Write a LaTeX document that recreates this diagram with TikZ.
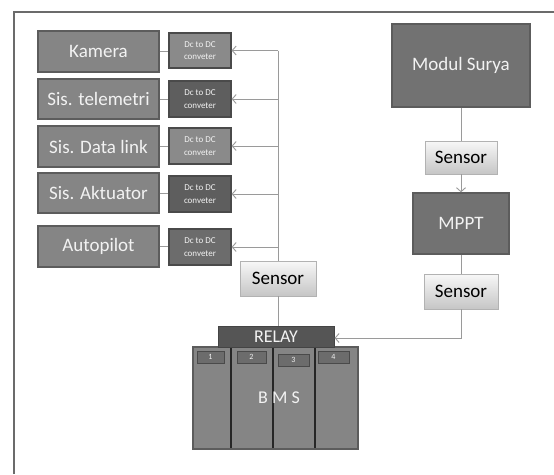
\documentclass[tikz,border=0pt]{standalone}
\usepackage{fontspec}
\setmainfont{Carlito}
\usetikzlibrary{arrows.meta,shadows}
\definecolor{mainfill}{HTML}{858585}
\definecolor{mainedge}{HTML}{5C5C5C}
\definecolor{dclight}{HTML}{8A8A8A}
\definecolor{dcdark}{HTML}{5E5E5E}
\definecolor{dcmid}{HTML}{6C6C6C}
\definecolor{darkfill}{HTML}{727272}
\definecolor{relayfill}{HTML}{555555}
\definecolor{wireclr}{HTML}{9A9A9A}
\definecolor{frameclr}{HTML}{6B6B6B}
\definecolor{txtw}{HTML}{F2F2F2}
\tikzset{
  mainbox/.style={draw=mainedge, line width=1.4pt, fill=mainfill, text=txtw,
    minimum width=121pt, inner sep=0pt, font=\fontsize{19}{21}\selectfont},
  dcbox/.style={draw=mainedge!80!black, line width=1.2pt, text=txtw,
    minimum width=62pt, minimum height=36pt, inner sep=0pt, align=center,
    font=\fontsize{9}{12.5}\selectfont},
  sensorbox/.style={draw=gray!60, line width=0.8pt, top color=white!97!black, bottom color=gray!45,
    drop shadow={shadow xshift=1.2pt, shadow yshift=-1.2pt, opacity=0.35},
    text=black, inner sep=0pt, font=\fontsize{19}{21}\selectfont},
  wire/.style={draw=wireclr, line width=1pt},
  arr/.style={wire, -{Straight Barb[length=4pt,width=9pt,line width=0.9pt]}},
  tabbox/.style={draw=mainedge!80!black, line width=1pt, fill=dcmid, text=txtw,
    inner sep=0pt, font=\fontsize{8}{9}\selectfont},
}
\begin{document}
\begin{tikzpicture}[x=1pt,y=-1pt]
\useasboundingbox (0,0) rectangle (554,474);
\fill[white] (0,0) rectangle (554,474);
% frame
\draw[frameclr, line width=1.5pt] (14,474) -- (14,12) -- (554,12);

% left main boxes
\node[mainbox, minimum height=41pt] (kam) at (98.5,51.5) {Kamera};
\node[mainbox, minimum height=40pt] (tel) at (98.5,99) {Sis. telemetri};
\node[mainbox, minimum height=41pt] (dat) at (98.5,146.5) {Sis. Data link};
\node[mainbox, minimum height=40pt] (akt) at (98.5,193) {Sis. Aktuator};
\node[mainbox, minimum height=41pt] (aut) at (98.5,246.5) {Autopilot};

% dc converters
\node[dcbox, fill=dclight, minimum height=35pt] (dc1) at (200,50.5) {Dc to DC\\conveter};
\node[dcbox, fill=dcdark] (dc2) at (200,99) {Dc to DC\\conveter};
\node[dcbox, fill=dclight] (dc3) at (200,146) {Dc to DC\\conveter};
\node[dcbox, fill=dcdark] (dc4) at (200,194) {Dc to DC\\conveter};
\node[dcbox, fill=dcmid] (dc5) at (200,247) {Dc to DC\\conveter};

\draw[wire] (kam.east) -- (dc1.west |- kam.east);
\draw[wire] (tel.east) -- (dc2.west |- tel.east);
\draw[wire] (dat.east) -- (dc3.west |- dat.east);
\draw[wire] (akt.east) -- (dc4.west |- akt.east);
\draw[wire] (aut.east) -- (dc5.west |- aut.east);

% left sensor and relay / BMS
\node[sensorbox, minimum width=76pt, minimum height=35pt] (ls) at (278,278.5) {Sensor};
\node[draw=mainedge, line width=1.4pt, fill=mainfill, minimum width=165pt, minimum height=102pt, inner sep=0pt] (bms) at (275.5,398) {};
\node[draw=relayfill!80!black, line width=1pt, fill=relayfill, text=txtw, minimum width=116pt, minimum height=21pt, inner sep=0pt, font=\fontsize{18}{20}\selectfont] (relay) at (276,336.5) {RELAY};

% bus
\draw[wire] (dc1.east -| ls.north) -- (ls.north);
\draw[arr] (dc1.east -| ls.north) -- (dc1.east);
\draw[arr] (dc2.east -| ls.north) -- (dc2.east);
\draw[arr] (dc3.east -| ls.north) -- (dc3.east);
\draw[arr] (dc4.east -| ls.north) -- (dc4.east);
\draw[arr] (dc5.east -| ls.north) -- (dc5.east);
\draw[wire] (ls.south) -- (ls.south |- relay.north);

% BMS dividers
\draw[black!85, line width=1.8pt] (231,348) -- (231,448);
\draw[black!85, line width=1.8pt] (273,348) -- (273,448);
\draw[black!85, line width=1.8pt] (315,348) -- (315,448);
\node[tabbox, minimum width=27pt, minimum height=12pt] (t1) at (210.5,357) {1};
\node[tabbox, minimum width=29pt, minimum height=12pt] (t2) at (251.5,357) {2};
\node[tabbox, minimum width=31pt, minimum height=12pt] (t3) at (293.5,360) {3};
\node[tabbox, minimum width=31pt, minimum height=12pt] (t4) at (333.5,357) {4};
\node[text=txtw, font=\fontsize{18}{20}\selectfont, inner sep=0pt] (bmst) at (279,398) {B M S};

% right column
\node[mainbox, fill=darkfill, minimum width=138pt, minimum height=83pt] (mod) at (461,65.5) {Modul Surya};
\node[sensorbox, minimum width=72pt, minimum height=33pt] (s1) at (461,157.5) {Sensor};
\node[mainbox, fill=darkfill, minimum width=96pt, minimum height=61pt] (mppt) at (461,223.5) {MPPT};
\node[sensorbox, minimum width=74pt, minimum height=35pt] (s2) at (461,291.5) {Sensor};

\draw[wire] (mod.south) -- (s1.north);
\draw[arr] (s1.south) -- (mppt.north);
\draw[wire] (mppt.south) -- (s2.north);
\draw[arr] (s2.south) |- ([yshift=-1.5pt]relay.east);
\end{tikzpicture}
\end{document}
